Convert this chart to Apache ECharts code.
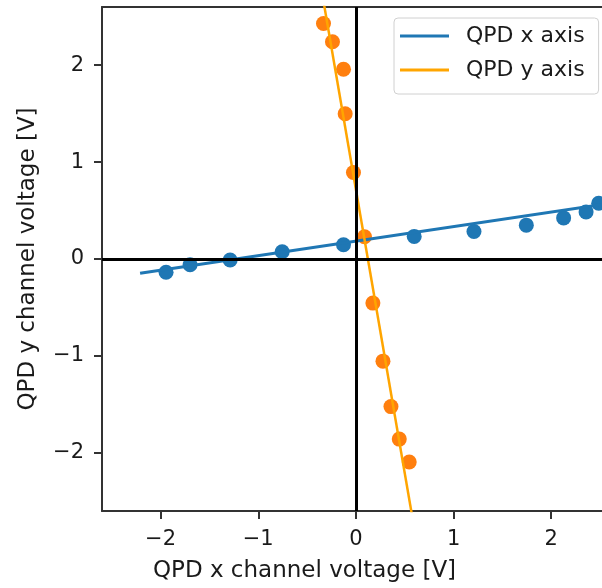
<!DOCTYPE html>
<html>
<head>
<meta charset="utf-8">
<script src="https://cdn.jsdelivr.net/npm/echarts@6/dist/echarts.min.js"></script>
<style>
  html, body { margin: 0; padding: 0; background: #fff; }
  #chart { width: 602px; height: 588px; }
</style>
</head>
<body>
<div id="chart"></div>
<script>
// measured points, QPD x axis scan
const xScanX = [-1.944, -1.698, -1.288, -0.755, -0.127, 0.597, 1.209, 1.745, 2.127, 2.357, 2.486]
const xScanY = [-0.137, -0.059, -0.010, 0.075, 0.147, 0.233, 0.284, 0.349, 0.424, 0.486, 0.575]
// measured points, QPD y axis scan
const yScanX = [-0.332, -0.240, -0.127, -0.110, -0.025, 0.088, 0.174, 0.277, 0.359, 0.444, 0.546]
const yScanY = [2.430, 2.241, 1.958, 1.499, 0.893, 0.229, -0.455, -1.054, -1.523, -1.858, -2.094]
// fitted lines (end points)
const xFitX = [-2.21, 2.7]
const xFitY = [-0.147, 0.59]
const yFitX = [-0.356, 0.601]
const yFitY = [2.8, -2.8]
const ticks = [-2, -1, 0, 1, 2]

const blue = '#1f77b4'
const orange = '#ff7f0e'
const lineOrange = '#ffa500'
const textColor = '#1a1a1a'
const spineColor = '#333'
const font = 'DejaVu Sans'

const pairs = (xs, ys) => xs.map((x, i) => [x, ys[i]])
const fmt = v => String(v).replace('-', '\u2212')

const chart = echarts.init(document.getElementById('chart'))

const axisCommon = {
  type: 'value',
  splitLine: { show: false },
  axisLine: { onZero: false, lineStyle: { color: spineColor, width: 2 } },
  axisTick: { customValues: ticks, length: 8, lineStyle: { color: spineColor, width: 2 } },
  axisLabel: {
    customValues: ticks,
    formatter: fmt,
    color: textColor,
    fontFamily: font,
    fontSize: 21
  },
  nameLocation: 'middle',
  nameTextStyle: { color: textColor, fontFamily: font, fontSize: 23 }
}

const option = {
  animation: false,
  grid: { left: 102, top: 7, right: 0, bottom: 75, containLabel: false },
  xAxis: [
    Object.assign({}, axisCommon, {
      min: -2.6,
      max: 2.52,
      name: 'QPD x channel voltage [V]',
      nameGap: 49,
      nameTextStyle: Object.assign({}, axisCommon.nameTextStyle, { padding: [0, 95, 0, 0] }),
      axisLabel: Object.assign({}, axisCommon.axisLabel, { margin: 18 })
    }),
    {
      // top spine only
      type: 'value',
      position: 'top',
      min: -2.6,
      max: 2.52,
      splitLine: { show: false },
      axisTick: { show: false },
      axisLabel: { show: false },
      axisLine: { show: true, onZero: false, lineStyle: { color: spineColor, width: 2 } }
    }
  ],
  yAxis: Object.assign({}, axisCommon, {
    min: -2.6,
    max: 2.6,
    name: 'QPD y channel voltage [V]',
    nameGap: 62,
    axisLabel: Object.assign({}, axisCommon.axisLabel, { margin: 18 })
  }),
  legend: {
    data: ['QPD x axis', 'QPD y axis'],
    orient: 'vertical',
    left: 394,
    top: 18,
    icon: 'rect',
    itemWidth: 49,
    itemHeight: 3,
    itemGap: 10,
    padding: [6, 14, 12, 6],
    borderColor: '#d0d0d0',
    borderWidth: 1,
    borderRadius: 4,
    backgroundColor: 'rgba(255,255,255,0.8)',
    textStyle: { color: textColor, fontFamily: font, fontSize: 22, lineHeight: 24, padding: [0, 0, 0, 12] }
  },
  series: [
    {
      name: 'x points',
      type: 'scatter',
      data: pairs(xScanX, xScanY),
      symbolSize: 15,
      itemStyle: { color: blue, opacity: 1 },
      z: 2
    },
    {
      name: 'y points',
      type: 'scatter',
      data: pairs(yScanX, yScanY),
      symbolSize: 15,
      itemStyle: { color: orange, opacity: 1 },
      z: 2
    },
    {
      name: 'QPD x axis',
      type: 'line',
      data: pairs(xFitX, xFitY),
      symbol: 'none',
      color: blue,
      lineStyle: { color: blue, width: 3 },
      z: 3
    },
    {
      name: 'QPD y axis',
      type: 'line',
      data: pairs(yFitX, yFitY),
      symbol: 'none',
      color: lineOrange,
      lineStyle: { color: lineOrange, width: 2.5 },
      z: 3
    },
    {
      name: 'zero',
      type: 'line',
      data: [],
      z: 4,
      markLine: {
        silent: true,
        symbol: 'none',
        label: { show: false },
        lineStyle: { color: '#000', width: 3, type: 'solid' },
        emphasis: { disabled: true },
        data: [{ xAxis: 0 }, { yAxis: 0 }]
      }
    }
  ]
}

chart.setOption(option)
</script>
</body>
</html>
